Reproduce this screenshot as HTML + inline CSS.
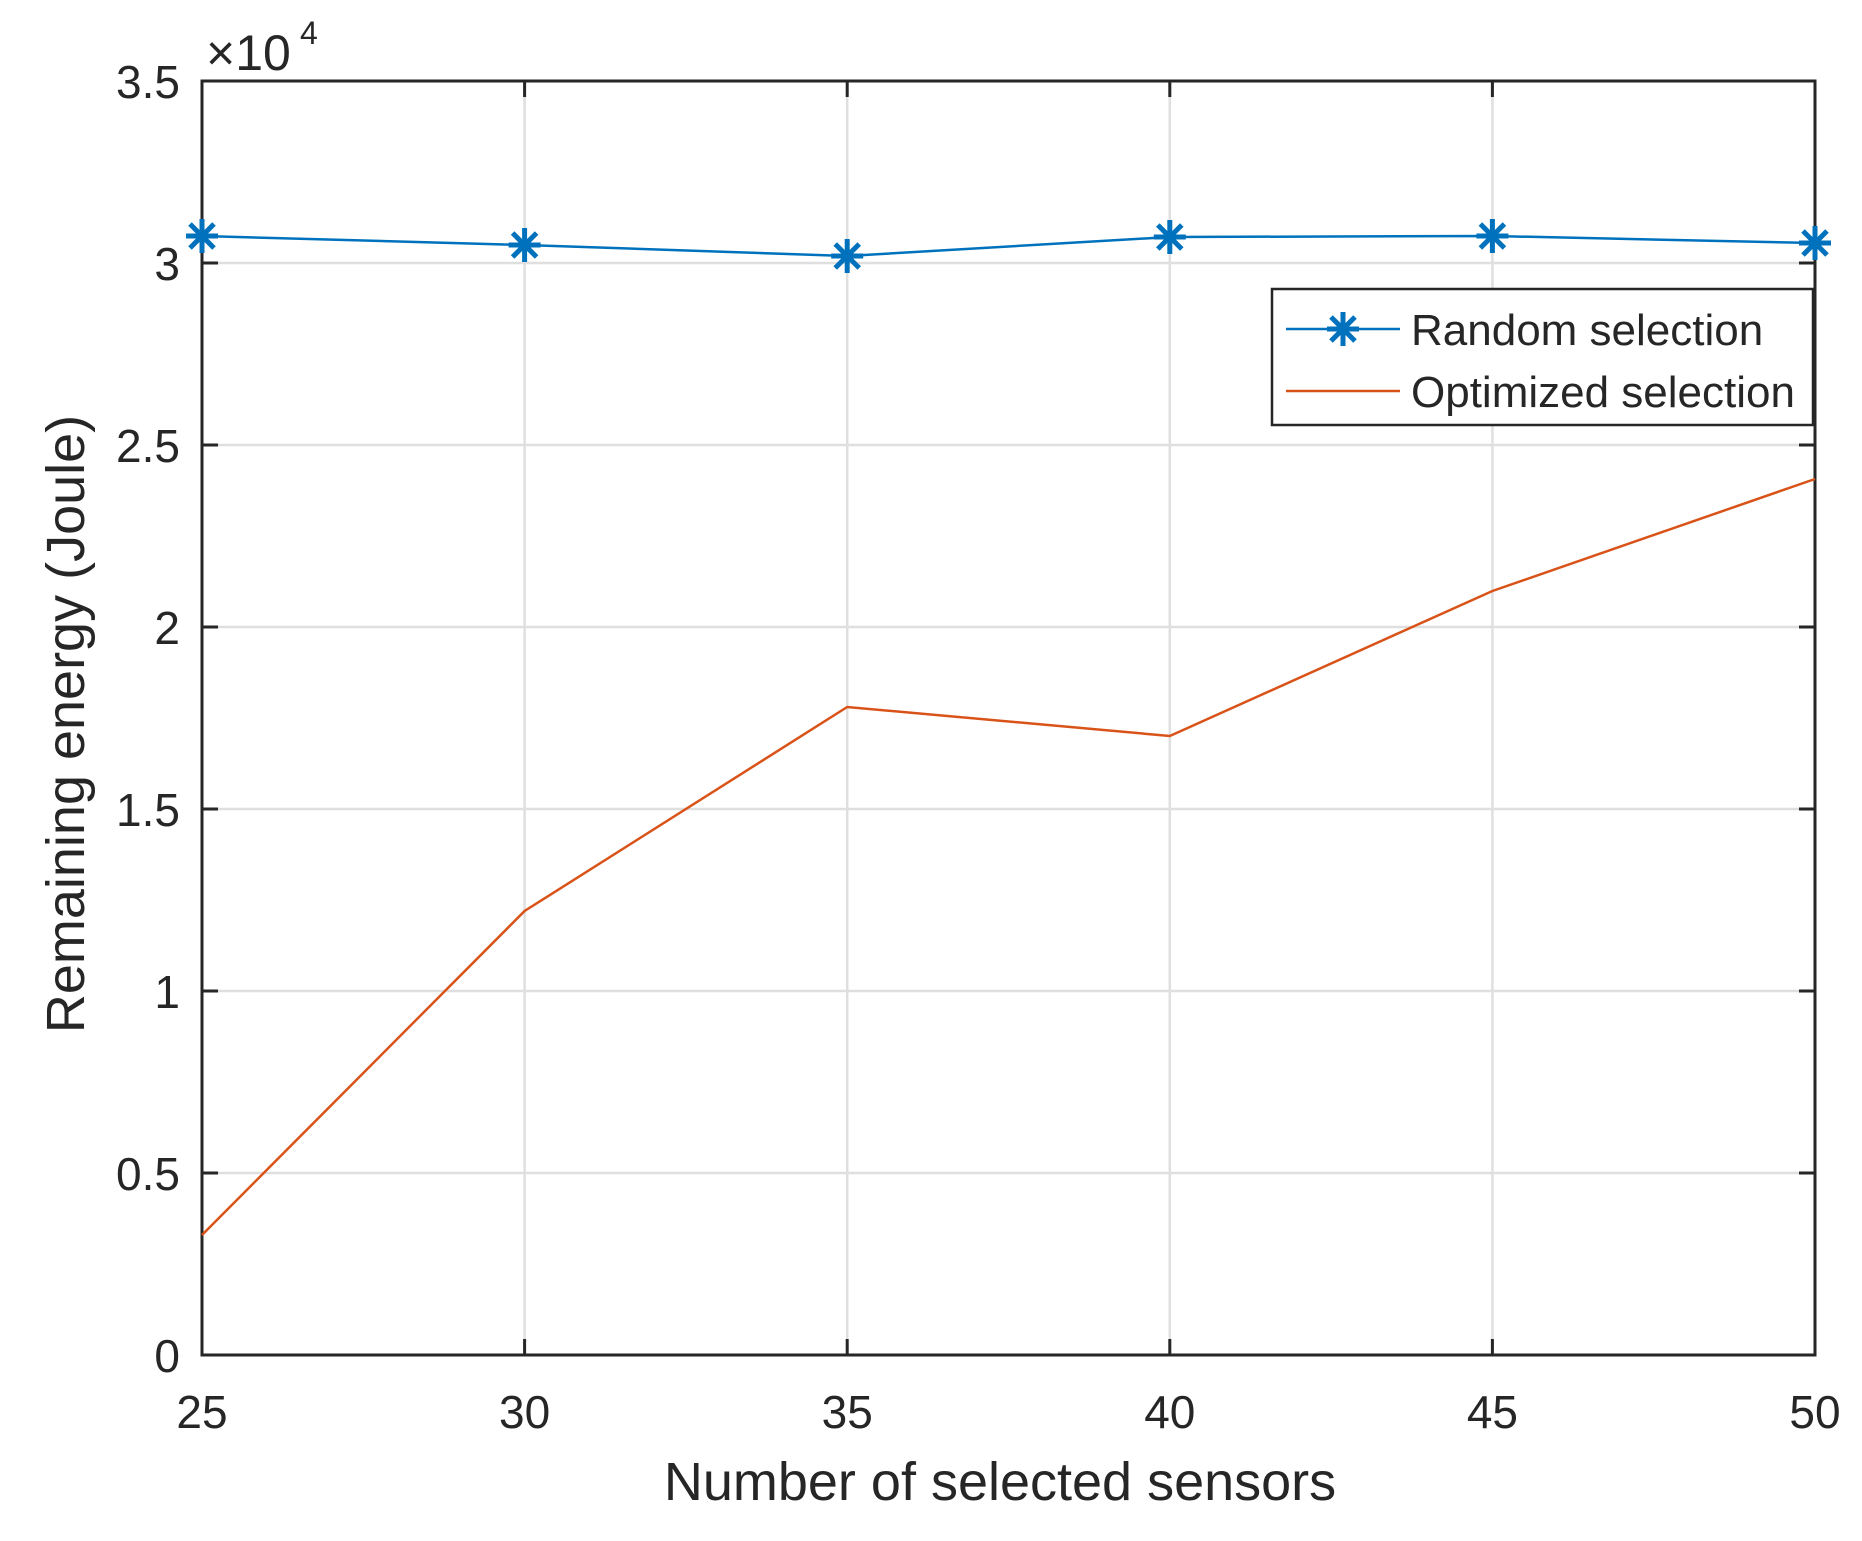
<!DOCTYPE html>
<html><head><style>body{margin:0;background:#fff}</style></head><body>
<svg width="1862" height="1536" xmlns="http://www.w3.org/2000/svg" font-family="Liberation Sans, Arial, sans-serif" fill="#262626">
<rect width="1862" height="1536" fill="#fff"/>
<g stroke="#dfdfdf" stroke-width="2.5">
<line x1="524.6" y1="81" x2="524.6" y2="1355"/><line x1="847.2" y1="81" x2="847.2" y2="1355"/><line x1="1169.8" y1="81" x2="1169.8" y2="1355"/><line x1="1492.4" y1="81" x2="1492.4" y2="1355"/>
<line x1="202" y1="263" x2="1815" y2="263"/><line x1="202" y1="445" x2="1815" y2="445"/><line x1="202" y1="627" x2="1815" y2="627"/><line x1="202" y1="809" x2="1815" y2="809"/><line x1="202" y1="991" x2="1815" y2="991"/><line x1="202" y1="1173" x2="1815" y2="1173"/>
</g>
<g stroke="#262626" stroke-width="3">
<path d="M202,263h16M202,445h16M202,627h16M202,809h16M202,991h16M202,1173h16M1815,263h-16M1815,445h-16M1815,627h-16M1815,809h-16M1815,991h-16M1815,1173h-16"/>
<path d="M524.6,1355v-16M847.2,1355v-16M1169.8,1355v-16M1492.4,1355v-16M524.6,81v16M847.2,81v16M1169.8,81v16M1492.4,81v16"/>
<rect x="202" y="81" width="1613" height="1274" fill="none"/>
</g>
<polyline fill="none" stroke="#d95319" stroke-width="2.5" points="202,1235 524.6,911 847.2,707 1169.8,736 1492.4,591 1815,479"/>
<defs><g id="st" stroke="#0072bd" stroke-width="5"><line x1="-16" y1="0" x2="16" y2="0"/><line x1="0" y1="-17" x2="0" y2="17"/><line x1="-12" y1="-12" x2="12" y2="12"/><line x1="-12" y1="12" x2="12" y2="-12"/></g></defs>
<polyline fill="none" stroke="#0072bd" stroke-width="2.5" points="202,236 524.6,245 847.2,256 1169.8,237 1492.4,236 1815,243"/>
<use href="#st" x="202" y="236"/><use href="#st" x="524.6" y="245"/><use href="#st" x="847.2" y="256"/><use href="#st" x="1169.8" y="237"/><use href="#st" x="1492.4" y="236"/><use href="#st" x="1815" y="243"/>
<g font-size="46" text-anchor="end">
<text x="180" y="98">3.5</text><text x="180" y="280">3</text><text x="180" y="462">2.5</text><text x="180" y="644">2</text><text x="180" y="826">1.5</text><text x="180" y="1008">1</text><text x="180" y="1190">0.5</text><text x="180" y="1372">0</text>
</g>
<g font-size="46" text-anchor="middle">
<text x="202" y="1428">25</text><text x="524.6" y="1428">30</text><text x="847.2" y="1428">35</text><text x="1169.8" y="1428">40</text><text x="1492.4" y="1428">45</text><text x="1815" y="1428">50</text>
</g>
<text x="206" y="70" font-size="50">×10</text><text x="300" y="44" font-size="32">4</text>
<text x="1000" y="1500" font-size="54" text-anchor="middle">Number of selected sensors</text>
<text transform="translate(84,724) rotate(-90)" font-size="54" text-anchor="middle">Remaining energy (Joule)</text>
<rect x="1272" y="289" width="541" height="136" fill="#fff" stroke="#262626" stroke-width="2.5"/>
<line x1="1286" y1="329" x2="1400" y2="329" stroke="#0072bd" stroke-width="2.5"/><use href="#st" x="1343" y="329"/>
<line x1="1286" y1="391" x2="1400" y2="391" stroke="#d95319" stroke-width="2.5"/>
<text x="1411" y="345" font-size="44">Random selection</text>
<text x="1411" y="407" font-size="44">Optimized selection</text>
</svg>
</body></html>
